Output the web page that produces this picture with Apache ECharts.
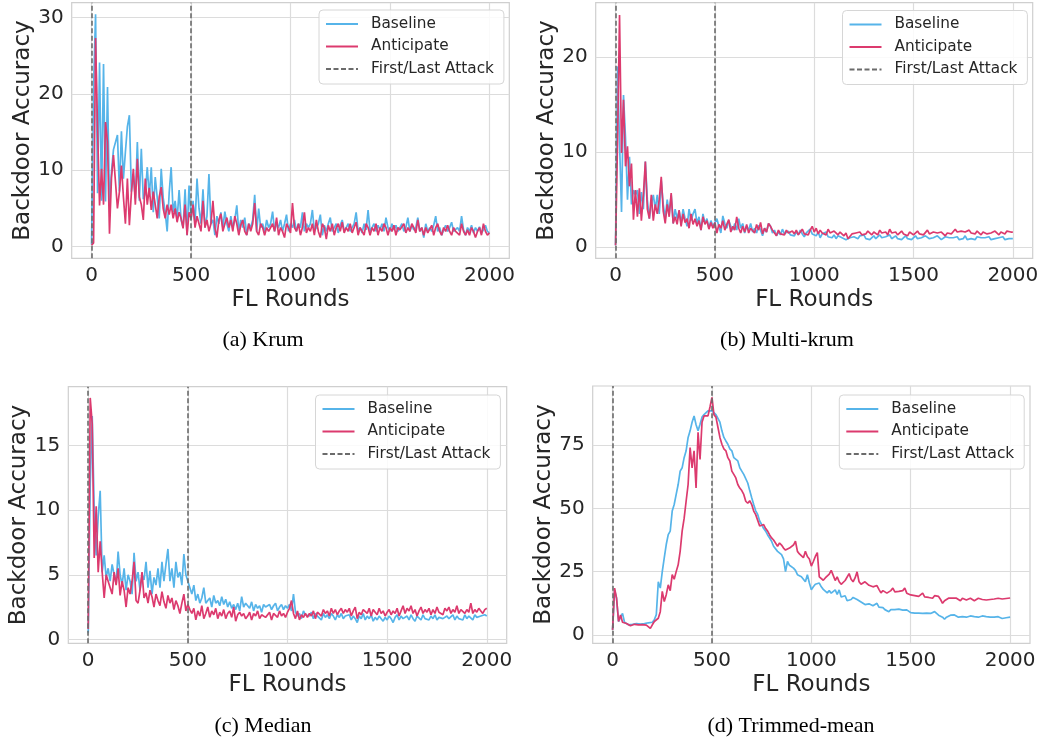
<!DOCTYPE html>
<html><head><meta charset="utf-8">
<script src="https://cdn.jsdelivr.net/npm/echarts@6/dist/echarts.min.js"></script>
<style>html,body{margin:0;padding:0;background:#fff}#c{width:1043px;height:742px}</style>
</head><body><div id="c"></div><script>
// ---------- data ----------
const ROUND_STEP = 10;
const ROUNDS = []; for (let r = 0; r <= 2000; r += ROUND_STEP) ROUNDS.push(r);
const ATTACK_ROUNDS = [0, 500];
const X_TICKS = [0, 500, 1000, 1500, 2000];
const SERIES_NAMES = ['Baseline', 'Anticipate', 'First/Last Attack'];
const PANEL_TITLES = ['(a) Krum', '(b) Multi-krum', '(c) Median', '(d) Trimmed-mean'];
const Y_TICKS_KRUM = [0, 10, 20, 30];
const Y_TICKS_MULTIKRUM = [0, 10, 20];
const Y_TICKS_MEDIAN = [0, 5, 10, 15];
const Y_TICKS_TRIMMED = [0, 25, 50, 75];

const KRUM_BASELINE = [
0.3,21.0,30.4,7.0,24.1,6.0,23.9,5.9,20.9,5.5,
9.8,12.7,12.9,14.6,7.2,15.1,8.9,12.4,15.7,17.2,
7.2,9.3,6.3,13.7,6.0,12.8,6.2,7.0,10.4,6.5,
10.4,4.5,9.1,6.4,3.7,10.2,6.4,4.5,2.0,7.0,
10.4,4.5,6.0,3.5,7.4,3.5,2.5,7.5,1.5,8.0,
3.5,6.0,3.0,8.9,5.0,3.0,7.5,2.5,4.0,9.5,
3.0,3.5,1.5,4.0,3.0,4.5,2.5,4.6,3.0,2.0,
4.0,2.5,3.5,5.4,2.0,3.5,2.5,3.8,1.5,3.0,
2.5,3.5,6.8,2.0,5.0,2.5,3.0,1.8,3.5,2.5,
3.0,4.6,2.0,3.0,2.5,3.5,2.0,3.0,4.2,2.0,
3.0,2.5,3.5,2.0,3.0,2.5,4.5,2.0,3.0,2.5,
3.0,4.8,2.0,2.5,3.0,4.2,1.5,2.8,2.0,3.0,
3.8,2.0,2.5,3.0,1.8,2.8,3.5,2.0,2.5,3.0,
2.0,2.5,3.0,4.5,2.0,2.5,1.8,3.0,2.2,4.8,
2.0,2.5,3.0,2.0,2.8,2.2,3.0,2.0,3.8,2.5,
2.0,3.0,2.2,2.8,2.0,2.5,3.0,2.0,2.5,3.8,
2.0,2.8,2.2,2.5,3.8,2.0,2.5,1.2,3.0,2.0,
2.5,2.0,2.8,4.0,2.0,2.5,1.5,2.2,2.8,2.0,
2.5,3.2,2.0,1.8,2.5,2.0,4.0,2.2,1.5,2.5,
2.0,2.8,1.8,2.5,2.0,2.6,1.8,2.2,2.8,2.0,
1.8];
const KRUM_ANTICIPATE = [
0.2,0.5,27.3,15.4,5.4,10.2,5.5,16.3,13.7,1.7,
9.0,12.0,12.0,5.0,7.2,10.6,6.5,3.0,8.9,2.8,
7.0,10.2,5.5,11.5,6.5,5.5,3.5,8.9,5.5,7.7,
4.8,7.2,5.5,3.7,6.5,7.8,5.0,3.7,5.5,4.2,
5.5,3.7,5.0,3.2,4.5,3.7,2.4,5.5,1.5,4.5,
3.7,5.5,2.5,4.0,3.0,2.0,6.0,2.5,3.5,2.0,
3.0,6.0,2.5,1.2,3.5,4.3,2.0,3.0,3.8,2.5,
3.5,2.0,4.0,3.0,1.5,2.8,3.5,2.0,1.5,3.0,
2.0,3.0,5.7,2.0,1.5,3.0,2.5,1.5,2.5,2.0,
1.8,3.0,2.0,3.8,1.5,2.5,2.0,1.2,3.0,2.5,
1.8,5.7,2.5,2.0,3.0,1.5,2.5,4.5,1.8,2.5,
2.0,3.0,1.5,3.5,2.0,1.2,3.0,2.5,1.0,2.8,
2.0,3.0,1.5,2.5,3.0,2.0,3.2,1.8,2.5,2.0,
3.0,1.8,2.5,3.2,1.5,2.5,2.0,1.5,3.0,2.5,
1.5,2.5,2.0,3.0,1.5,2.5,2.0,3.0,2.5,1.5,
2.5,2.0,2.8,1.5,2.5,2.2,2.0,3.0,1.8,2.5,
2.0,3.0,2.5,1.8,3.5,2.0,2.5,1.5,2.5,1.8,
2.0,2.8,1.5,2.5,3.0,2.0,1.5,2.5,2.0,2.8,
2.0,1.5,2.5,2.0,2.2,1.5,3.0,2.0,1.5,2.2,
1.5,2.5,2.0,1.2,2.0,2.5,1.5,3.0,2.0,1.5,
1.8];
const MULTIKRUM_BASELINE = [
0.2,19.0,11.0,3.7,16.0,11.5,5.0,9.5,4.5,6.0,
5.5,6.0,3.5,5.8,4.0,9.0,5.0,3.0,4.5,5.5,
4.0,5.5,3.5,7.0,4.5,3.0,5.0,3.5,5.5,2.5,
4.0,3.0,3.8,2.5,4.0,3.0,2.2,4.0,2.8,3.5,
4.0,2.5,3.2,1.8,3.5,2.5,3.0,2.0,2.8,2.2,
2.0,3.0,2.2,1.5,3.3,2.5,2.0,2.8,2.2,1.8,
2.5,1.8,3.0,2.0,2.5,1.5,2.2,1.8,2.5,1.6,
2.0,1.5,2.3,1.8,1.2,2.0,1.6,2.5,2.2,1.5,
1.8,1.2,1.6,1.3,1.9,1.4,1.2,1.7,1.3,1.5,
1.2,1.6,1.3,1.8,1.4,1.1,1.5,1.3,1.9,1.4,
1.5,1.2,1.6,1.0,1.4,1.2,1.6,1.1,1.3,1.0,
1.3,0.9,1.2,1.4,1.0,1.2,0.8,0.6,1.0,1.2,
1.1,1.3,0.9,1.2,1.0,1.3,0.9,1.1,0.8,1.0,
1.2,0.9,1.1,1.3,1.0,0.8,1.1,1.0,1.3,0.9,
1.0,1.2,0.9,1.1,0.8,1.0,1.2,0.9,1.0,0.8,
1.0,1.2,0.9,1.1,1.0,0.8,1.2,1.0,0.9,1.1,
1.0,0.9,1.2,1.0,0.8,1.0,1.1,0.9,1.0,0.8,
1.0,0.9,1.1,0.8,1.0,0.9,1.2,0.8,1.0,0.9,
1.0,0.8,1.1,0.9,1.0,0.8,1.0,0.9,1.1,0.8,
1.0,0.9,0.8,1.0,0.9,1.1,0.8,1.0,0.9,1.0,
0.9];
const MULTIKRUM_ANTICIPATE = [
0.2,11.1,24.4,9.9,15.5,8.5,10.6,6.4,8.8,2.9,
6.0,3.2,6.2,2.8,5.5,9.0,4.0,3.0,5.5,2.8,
4.5,3.5,5.0,7.4,3.8,2.5,4.5,3.2,5.7,2.5,
3.2,2.4,3.9,2.2,3.5,2.6,3.0,2.0,3.5,2.4,
3.0,2.2,2.8,1.8,3.2,2.4,2.8,1.9,2.6,2.0,
2.6,1.5,2.4,2.0,2.8,1.8,2.4,2.9,1.6,2.2,
1.8,3.2,2.0,1.5,2.2,1.6,2.4,1.5,2.0,1.8,
1.5,2.4,1.8,2.6,1.4,2.0,1.6,2.5,2.2,1.8,
1.6,1.2,1.8,1.4,1.6,1.3,1.8,1.5,1.4,1.7,
1.4,1.8,1.3,1.6,1.9,1.4,1.6,1.3,1.8,2.2,
1.6,2.0,1.4,1.8,1.5,1.7,1.3,1.9,1.5,1.4,
1.7,1.5,1.3,1.6,1.4,1.2,1.5,0.9,1.1,1.4,
1.2,1.5,1.4,1.6,1.3,1.5,1.4,1.7,1.5,1.3,
1.6,1.4,1.3,1.8,1.5,1.4,1.6,1.3,1.9,1.5,
1.4,1.6,1.3,1.5,1.7,1.4,1.5,1.2,1.6,1.4,
1.3,1.5,1.7,1.4,1.6,1.3,1.5,1.8,1.4,1.5,
1.6,1.4,1.5,1.3,1.6,1.4,1.2,1.5,1.6,1.4,
1.5,1.9,1.6,1.4,1.7,1.5,1.6,1.4,1.8,1.5,
1.6,1.4,1.7,1.5,1.3,1.6,1.8,1.4,1.6,1.5,
1.4,1.7,1.5,1.3,1.6,1.5,1.4,1.7,1.5,1.6,
1.6];
const MEDIAN_BASELINE = [
0.5,12.0,17.3,10.0,6.5,9.5,11.5,5.2,6.5,4.8,
5.5,4.5,5.8,5.0,4.3,6.8,5.0,4.2,5.5,3.8,
5.0,4.5,3.5,6.7,4.5,5.2,3.8,5.0,4.6,6.0,
4.0,5.3,3.5,4.8,4.2,5.5,4.0,6.0,4.5,5.8,
7.0,4.5,5.5,4.0,6.0,4.8,5.2,4.2,6.6,5.0,
4.5,4.0,3.5,4.2,3.0,3.5,2.8,3.2,4.0,2.8,
3.0,3.2,2.5,3.4,2.8,3.0,2.6,3.3,2.7,3.1,
2.5,2.9,2.4,2.7,2.3,2.8,2.2,3.3,2.5,2.8,
2.6,2.4,2.9,2.2,2.7,2.4,2.6,2.1,2.7,2.5,
2.4,2.7,2.3,2.6,2.8,2.2,2.5,2.7,2.3,2.6,
2.4,2.7,2.2,3.5,2.1,1.8,2.0,1.6,2.2,1.9,
2.0,1.8,2.1,1.6,2.0,1.8,1.9,1.5,2.0,1.7,
1.9,1.6,2.0,1.8,1.5,1.9,1.7,2.0,1.6,1.8,
1.7,1.9,1.5,1.8,1.6,1.3,1.8,1.6,2.0,1.5,
1.8,1.6,1.9,1.4,1.7,1.5,1.8,1.6,1.4,1.7,
1.5,1.8,1.6,1.3,1.7,1.9,1.5,1.8,1.6,1.7,
1.8,1.5,1.9,1.6,1.4,1.8,1.7,1.5,1.9,1.6,
1.7,1.5,1.8,1.6,1.9,1.5,1.7,1.8,1.6,1.5,
1.8,1.6,1.7,1.9,1.5,1.8,1.6,1.7,1.5,1.9,
1.6,1.8,1.7,1.5,1.9,1.7,1.6,1.8,1.7,1.9,
1.8];
const MEDIAN_ANTICIPATE = [
0.8,18.7,16.7,6.3,10.3,5.2,7.6,5.2,3.2,5.0,
4.5,4.0,3.5,5.2,4.2,5.5,3.4,4.5,3.8,2.5,
4.0,3.5,4.5,6.0,3.0,2.8,3.8,5.2,3.2,3.6,
2.8,3.8,3.3,2.5,3.5,3.0,2.6,3.7,2.9,2.4,
3.4,2.8,3.2,2.3,3.0,2.6,2.0,2.8,3.5,2.2,
2.7,2.3,2.0,2.4,1.5,2.2,1.8,2.6,1.6,2.0,
2.5,1.7,2.2,1.9,2.4,1.6,2.1,1.8,2.3,1.6,
2.0,2.2,1.7,2.5,1.4,1.9,2.1,1.8,2.0,1.6,
1.8,2.1,1.5,2.0,1.8,2.2,1.6,1.9,2.0,1.7,
1.8,2.1,1.5,2.0,1.9,1.7,2.2,1.8,2.0,1.7,
2.1,2.4,3.0,2.0,1.6,2.2,1.5,1.9,1.7,2.0,
1.7,2.0,1.8,2.2,1.6,2.1,2.0,1.8,2.3,2.0,
2.2,1.8,2.4,2.0,2.3,1.9,2.2,2.4,2.0,2.3,
2.1,2.4,1.8,2.2,2.5,1.6,2.1,1.9,2.3,2.2,
2.0,2.4,1.8,2.3,2.1,1.9,2.4,2.0,2.2,1.8,
2.1,2.3,1.9,2.2,2.0,2.4,1.8,2.2,2.6,2.0,
2.4,2.2,2.6,2.0,2.3,1.8,2.2,2.5,2.0,2.3,
2.1,2.4,1.9,2.3,2.0,2.5,2.1,2.2,1.9,2.4,
2.2,2.5,2.0,2.3,2.1,2.6,2.0,2.3,2.2,2.0,
2.3,2.1,2.8,2.0,2.3,2.1,2.4,2.2,2.0,2.3,
2.4];
const TRIMMED_BASELINE = [
2.0,17.8,14.5,5.3,6.0,8.5,5.0,4.5,4.0,4.5,
4.2,3.8,4.5,4.0,4.3,3.6,4.5,4.0,4.8,4.2,
5.0,6.0,8.0,21.0,18.5,25.0,30.4,35.7,39.6,41.0,
48.9,51.5,55.5,59.4,64.7,66.0,70.0,72.7,78.0,80.6,
84.0,86.5,83.0,80.6,83.2,86.0,87.0,87.0,88.5,88.0,
88.5,88.0,87.0,86.5,84.0,80.6,78.0,76.6,75.3,73.5,
72.7,70.0,70.0,68.7,66.0,64.7,63.4,63.0,60.0,57.0,
54.2,51.5,49.0,47.6,45.0,43.6,42.0,41.0,39.5,38.3,
37.0,35.0,34.3,33.0,32.5,31.7,30.0,25.0,29.0,27.5,
27.7,26.4,25.5,23.8,24.5,23.0,22.5,21.0,23.8,20.5,
17.8,19.0,20.0,19.5,20.5,19.0,18.0,17.5,16.6,17.5,
16.5,17.0,17.8,16.0,17.8,15.0,14.5,15.5,13.5,13.2,
14.0,14.8,15.2,14.0,13.5,13.0,12.5,12.0,11.9,12.3,
12.0,11.5,12.0,12.5,11.0,10.5,10.8,10.0,9.8,9.2,
10.0,10.5,10.0,10.6,10.2,9.6,9.8,9.5,9.9,9.5,
8.8,8.5,8.6,8.2,8.6,8.0,8.5,8.2,8.6,8.8,
8.5,8.0,9.2,8.6,7.8,7.5,7.0,6.2,7.0,7.5,
7.8,7.2,7.9,7.5,7.0,7.4,7.2,6.8,7.0,7.3,
7.5,7.0,7.2,7.6,7.0,7.3,7.5,7.0,7.2,7.4,
7.0,7.3,7.0,6.8,7.2,6.8,6.5,6.6,6.8,7.0,
7.0];
const TRIMMED_ANTICIPATE = [
2.0,18.5,14.5,5.3,7.9,5.0,4.6,4.5,4.0,3.6,
3.8,4.2,3.5,4.0,3.4,4.1,3.6,3.9,3.5,2.6,
4.0,5.3,5.5,6.6,9.2,17.2,13.2,15.9,19.8,17.5,
23.8,22.0,25.0,27.7,33.0,41.0,46.0,52.8,59.4,74.0,
66.0,72.7,58.0,80.0,69.3,84.0,86.5,86.0,86.5,90.0,
93.8,87.0,86.0,82.0,78.0,75.3,73.5,72.7,70.0,68.7,
64.7,63.4,62.0,59.4,58.0,57.0,55.5,52.8,52.0,53.0,
51.5,48.9,47.5,46.9,43.0,42.3,43.6,42.0,41.0,39.5,
38.3,37.5,37.0,35.0,36.3,35.5,34.3,33.5,33.0,34.3,
34.3,35.5,37.0,33.0,32.0,31.7,30.5,33.0,31.0,30.0,
27.2,29.0,31.0,32.5,22.9,23.5,21.6,22.5,23.0,24.0,
25.5,23.5,21.5,22.9,21.0,20.0,19.6,21.5,22.0,24.2,
22.0,21.0,22.5,24.9,21.0,20.0,19.6,21.0,20.5,19.6,
19.6,19.0,18.5,19.5,18.0,16.6,17.5,17.0,16.5,17.0,
17.5,18.5,17.0,16.8,17.2,16.5,17.5,18.5,16.5,17.0,
15.8,16.5,15.5,16.0,15.2,15.8,16.5,15.0,15.5,14.8,
15.0,14.5,15.5,14.8,15.2,14.0,12.5,13.5,14.0,14.5,
14.0,14.5,13.8,14.5,14.0,13.5,14.5,14.2,13.8,14.0,
14.5,14.0,13.5,14.2,14.5,13.8,14.0,14.6,13.8,14.2,
14.0,14.5,14.2,13.8,14.5,14.0,14.2,13.8,14.4,14.5,
14.6];

// ---------- layout / style ----------
const BLUE = '#56B4E9', RED = '#DC3A6E', DASH = '#6b6b6b';
const TXT = '#262626', FONT = 'DejaVu Sans';
const panels = [
  {grid:{left:71.7, top:2.7, width:437.6, height:255.6}, y:[-1.52, 31.92], ticks:Y_TICKS_KRUM,
   base:KRUM_BASELINE, ant:KRUM_ANTICIPATE, legend:{left:319, top:10}, cap:[263, 340]},
  {grid:{left:595.7, top:2.7, width:437, height:255.6}, y:[-1.16, 25.69], ticks:Y_TICKS_MULTIKRUM,
   base:MULTIKRUM_BASELINE, ant:MULTIKRUM_ANTICIPATE, legend:{left:842.5, top:10.5}, cap:[787, 340]},
  {grid:{left:68.3, top:386.7, width:438.4, height:256.6}, y:[-0.31, 19.57], ticks:Y_TICKS_MEDIAN,
   base:MEDIAN_BASELINE, ant:MEDIAN_ANTICIPATE, legend:{left:315.5, top:395}, cap:[263, 726]},
  {grid:{left:592.7, top:386, width:437.3, height:257.3}, y:[-3.3, 98.3], ticks:Y_TICKS_TRIMMED,
   base:TRIMMED_BASELINE, ant:TRIMMED_ANTICIPATE, legend:{left:839.3, top:395}, cap:[791, 726]}
];

const pairs = vals => ROUNDS.map((r, i) => [r, vals[i]]);
const plain = v => String(v);
const option = {animation:false, backgroundColor:'#fff', grid:[], xAxis:[], yAxis:[], series:[], legend:[], graphic:[]};
panels.forEach((p, i) => {
  option.grid.push(Object.assign({show:true, borderColor:'#cfcfcf', borderWidth:1.2, backgroundColor:'transparent'}, p.grid));
  option.xAxis.push({type:'value', gridIndex:i, min:-100, max:2100,
    name:'FL Rounds', nameLocation:'middle', nameGap:30,
    nameTextStyle:{fontFamily:FONT, fontSize:23, color:TXT},
    axisLine:{show:false}, axisTick:{show:false, customValues:X_TICKS},
    axisLabel:{customValues:X_TICKS, formatter:plain, fontFamily:FONT, fontSize:20, color:TXT, margin:7},
    splitLine:{show:true, lineStyle:{color:'#dcdcdc', width:1.2}}});
  option.yAxis.push({type:'value', gridIndex:i, min:p.y[0], max:p.y[1],
    name:'Backdoor Accuracy', nameLocation:'middle', nameGap:37,
    nameTextStyle:{fontFamily:FONT, fontSize:23, color:TXT},
    axisLine:{show:false}, axisTick:{show:false, customValues:p.ticks},
    axisLabel:{customValues:p.ticks, formatter:plain, fontFamily:FONT, fontSize:20, color:TXT, margin:8},
    splitLine:{show:true, lineStyle:{color:'#dcdcdc', width:1.2}}});
  option.series.push({name:SERIES_NAMES[0], type:'line', xAxisIndex:i, yAxisIndex:i, data:pairs(p.base),
    showSymbol:false, symbol:'none', lineStyle:{color:BLUE, width:1.7}, itemStyle:{color:BLUE}, z:2});
  option.series.push({name:SERIES_NAMES[1], type:'line', xAxisIndex:i, yAxisIndex:i, data:pairs(p.ant),
    showSymbol:false, symbol:'none', lineStyle:{color:RED, width:1.7}, itemStyle:{color:RED}, z:3});
  option.series.push({name:SERIES_NAMES[2], type:'line', xAxisIndex:i, yAxisIndex:i, data:[],
    showSymbol:false, symbol:'none', lineStyle:{color:DASH, width:1.6, type:[5,2.5]}, itemStyle:{color:DASH}, z:4,
    markLine:{silent:true, symbol:'none', label:{show:false},
      lineStyle:{color:DASH, width:1.6, type:[5,2.5]},
      data:ATTACK_ROUNDS.map(r => ({xAxis:r}))}});
  option.legend.push({left:p.legend.left, top:p.legend.top, orient:'vertical', data:SERIES_NAMES,
    itemWidth:32, itemHeight:14, itemGap:4.5, padding:[5,10,6,6],
    itemStyle:{opacity:0, borderWidth:0},
    backgroundColor:'rgba(255,255,255,0.85)', borderColor:'#d6d6d6', borderWidth:1, borderRadius:4,
    textStyle:{fontFamily:FONT, fontSize:15.3, color:TXT, lineHeight:18, padding:[0,0,0,8]},
    selectedMode:false});
  option.graphic.push({type:'text', x:p.cap[0], y:p.cap[1],
    style:{text:PANEL_TITLES[i], fill:'#000', font:'22px "Liberation Serif"', textAlign:'center', textVerticalAlign:'middle'}});
});
const chart = echarts.init(document.getElementById('c'), null, {renderer:'canvas'});
chart.setOption(option);
</script></body></html>
